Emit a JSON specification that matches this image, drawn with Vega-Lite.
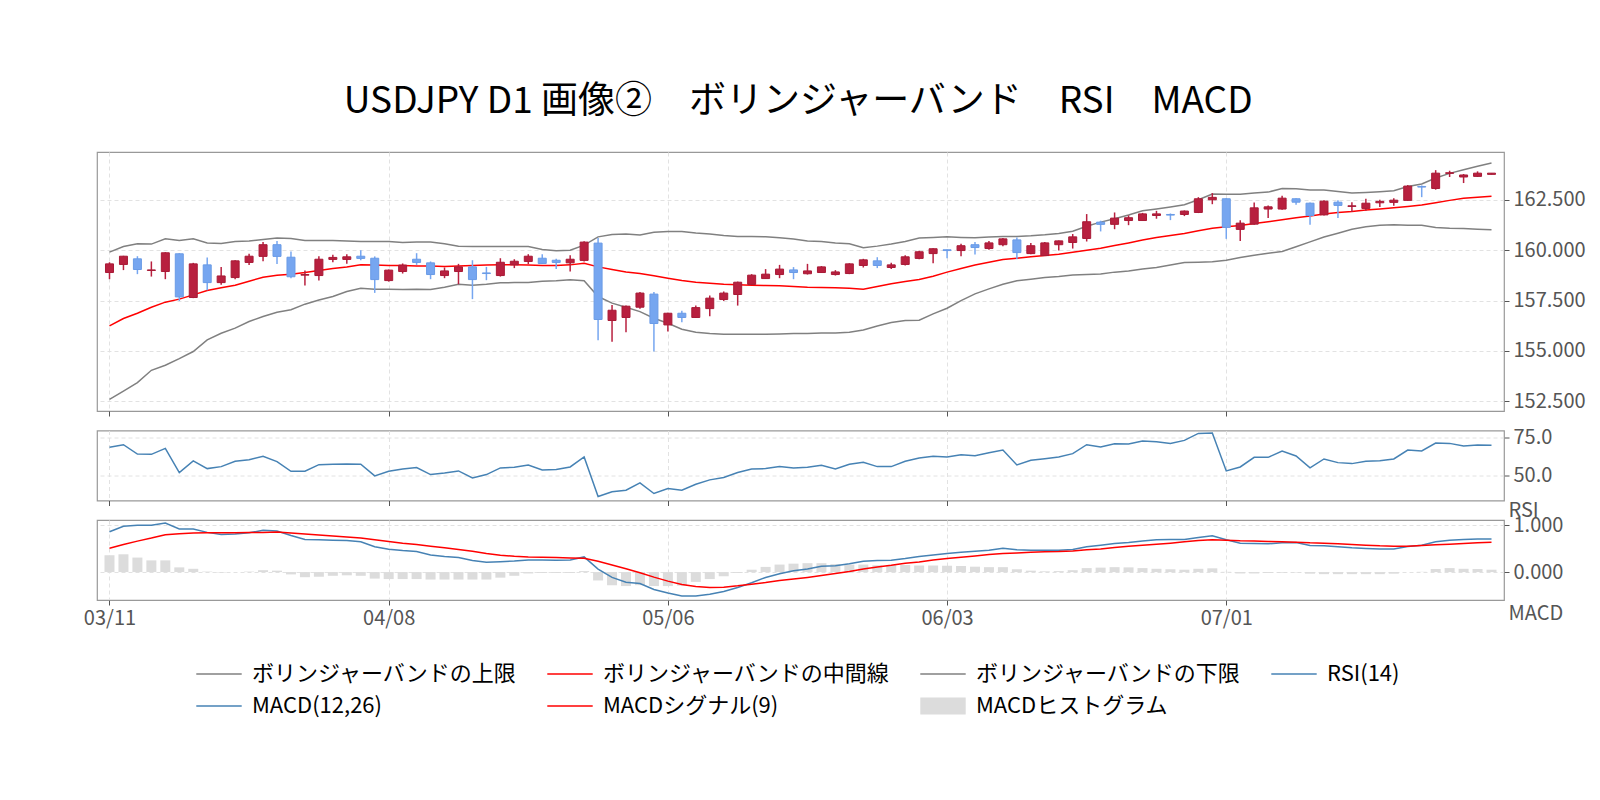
{
  "$schema": "https://vega.github.io/schema/vega-lite/v6.json",
  "padding": {"left": 82, "top": 83, "right": 5, "bottom": 5},
  "title": {
    "text": "USDJPY D1 画像②　ボリンジャーバンド　RSI　MACD",
    "font": "Noto Sans CJK JP", "fontSize": 37, "fontWeight": "normal",
    "color": "#000000", "anchor": "middle", "offset": 30, "dx": -36
  },
  "data": {"values": [
    {"d":"03/11","o":158.89,"h":159.40,"l":158.56,"c":159.32,"u":159.90,"m":156.24,"lo":152.60,"rsi":68.38,"macd":0.863,"sig":0.511,"hist":0.36},
    {"d":"03/12","o":159.29,"h":159.72,"l":159.01,"c":159.70,"u":160.18,"m":156.61,"lo":153.01,"rsi":70.09,"macd":0.978,"sig":0.590,"hist":0.38},
    {"d":"03/13","o":159.57,"h":159.70,"l":158.81,"c":159.04,"u":160.32,"m":156.87,"lo":153.43,"rsi":64.10,"macd":1.000,"sig":0.662,"hist":0.31},
    {"d":"03/14","o":158.99,"h":159.44,"l":158.69,"c":159.02,"u":160.30,"m":157.17,"lo":154.04,"rsi":63.89,"macd":1.000,"sig":0.727,"hist":0.25},
    {"d":"03/15","o":158.94,"h":159.90,"l":158.56,"c":159.87,"u":160.56,"m":157.42,"lo":154.29,"rsi":67.73,"macd":1.050,"sig":0.799,"hist":0.25},
    {"d":"03/18","o":159.82,"h":159.85,"l":157.48,"c":157.68,"u":160.48,"m":157.57,"lo":154.62,"rsi":52.14,"macd":0.921,"sig":0.820,"hist":0.10},
    {"d":"03/19","o":157.65,"h":159.37,"l":157.62,"c":159.32,"u":160.56,"m":157.78,"lo":154.97,"rsi":59.62,"macd":0.921,"sig":0.835,"hist":0.07},
    {"d":"03/20","o":159.27,"h":159.64,"l":158.01,"c":158.39,"u":160.36,"m":158.00,"lo":155.55,"rsi":54.70,"macd":0.849,"sig":0.842,"hist":0.01},
    {"d":"03/21","o":158.39,"h":159.16,"l":158.28,"c":158.72,"u":160.33,"m":158.13,"lo":155.88,"rsi":55.98,"macd":0.806,"sig":0.842,"hist":-0.01},
    {"d":"03/22","o":158.64,"h":159.50,"l":158.56,"c":159.47,"u":160.43,"m":158.26,"lo":156.13,"rsi":59.40,"macd":0.813,"sig":0.842,"hist":0.0},
    {"d":"03/25","o":159.39,"h":159.82,"l":159.26,"c":159.70,"u":160.46,"m":158.46,"lo":156.46,"rsi":60.47,"macd":0.842,"sig":0.849,"hist":0.01},
    {"d":"03/26","o":159.69,"h":160.41,"l":159.45,"c":160.27,"u":160.53,"m":158.66,"lo":156.71,"rsi":62.61,"macd":0.892,"sig":0.849,"hist":0.04},
    {"d":"03/27","o":160.27,"h":160.45,"l":159.31,"c":159.69,"u":160.60,"m":158.76,"lo":156.92,"rsi":59.19,"macd":0.878,"sig":0.856,"hist":0.03},
    {"d":"03/28","o":159.65,"h":159.93,"l":158.61,"c":158.68,"u":160.58,"m":158.81,"lo":157.04,"rsi":52.99,"macd":0.784,"sig":0.835,"hist":-0.05},
    {"d":"03/29","o":158.76,"h":158.99,"l":158.25,"c":158.79,"u":160.48,"m":158.89,"lo":157.32,"rsi":52.99,"macd":0.698,"sig":0.813,"hist":-0.11},
    {"d":"04/01","o":158.74,"h":159.70,"l":158.49,"c":159.55,"u":160.48,"m":158.99,"lo":157.53,"rsi":57.26,"macd":0.691,"sig":0.791,"hist":-0.10},
    {"d":"04/02","o":159.54,"h":159.77,"l":159.40,"c":159.64,"u":160.48,"m":159.09,"lo":157.70,"rsi":57.48,"macd":0.683,"sig":0.770,"hist":-0.08},
    {"d":"04/03","o":159.54,"h":159.80,"l":159.32,"c":159.67,"u":160.46,"m":159.17,"lo":157.95,"rsi":57.69,"macd":0.676,"sig":0.748,"hist":-0.07},
    {"d":"04/04","o":159.70,"h":160.00,"l":159.50,"c":159.59,"u":160.43,"m":159.27,"lo":158.11,"rsi":57.48,"macd":0.647,"sig":0.727,"hist":-0.08},
    {"d":"04/05","o":159.60,"h":159.69,"l":157.88,"c":158.54,"u":160.43,"m":159.26,"lo":158.06,"rsi":50.00,"macd":0.540,"sig":0.691,"hist":-0.14},
    {"d":"04/08","o":158.49,"h":159.04,"l":158.44,"c":159.01,"u":160.43,"m":159.24,"lo":158.06,"rsi":52.99,"macd":0.489,"sig":0.655,"hist":-0.15},
    {"d":"04/09","o":158.94,"h":159.34,"l":158.84,"c":159.26,"u":160.38,"m":159.24,"lo":158.05,"rsi":54.49,"macd":0.460,"sig":0.619,"hist":-0.15},
    {"d":"04/10","o":159.55,"h":159.85,"l":159.27,"c":159.39,"u":160.40,"m":159.22,"lo":158.06,"rsi":55.34,"macd":0.439,"sig":0.590,"hist":-0.15},
    {"d":"04/11","o":159.37,"h":159.44,"l":158.56,"c":158.79,"u":160.40,"m":159.22,"lo":158.05,"rsi":50.85,"macd":0.367,"sig":0.554,"hist":-0.16},
    {"d":"04/12","o":158.74,"h":159.14,"l":158.61,"c":158.97,"u":160.32,"m":159.19,"lo":158.16,"rsi":51.92,"macd":0.331,"sig":0.518,"hist":-0.16},
    {"d":"04/15","o":158.94,"h":159.32,"l":158.31,"c":159.17,"u":160.20,"m":159.22,"lo":158.31,"rsi":53.20,"macd":0.309,"sig":0.482,"hist":-0.16},
    {"d":"04/16","o":159.17,"h":159.50,"l":157.57,"c":158.54,"u":160.18,"m":159.24,"lo":158.26,"rsi":48.72,"macd":0.245,"sig":0.446,"hist":-0.16},
    {"d":"04/17","o":158.87,"h":159.17,"l":158.51,"c":158.84,"u":160.18,"m":159.26,"lo":158.31,"rsi":50.85,"macd":0.209,"sig":0.396,"hist":-0.16},
    {"d":"04/18","o":158.74,"h":159.60,"l":158.69,"c":159.40,"u":160.18,"m":159.27,"lo":158.38,"rsi":55.13,"macd":0.223,"sig":0.360,"hist":-0.12},
    {"d":"04/19","o":159.27,"h":159.55,"l":159.11,"c":159.45,"u":160.18,"m":159.27,"lo":158.39,"rsi":55.56,"macd":0.237,"sig":0.338,"hist":-0.08},
    {"d":"04/22","o":159.44,"h":159.80,"l":159.31,"c":159.70,"u":160.18,"m":159.26,"lo":158.39,"rsi":57.05,"macd":0.259,"sig":0.324,"hist":-0.03},
    {"d":"04/23","o":159.60,"h":159.80,"l":159.31,"c":159.34,"u":160.03,"m":159.24,"lo":158.46,"rsi":53.85,"macd":0.259,"sig":0.317,"hist":-0.02},
    {"d":"04/24","o":159.50,"h":159.57,"l":159.06,"c":159.39,"u":159.97,"m":159.24,"lo":158.48,"rsi":54.06,"macd":0.252,"sig":0.309,"hist":-0.02},
    {"d":"04/25","o":159.37,"h":159.75,"l":158.94,"c":159.55,"u":160.00,"m":159.27,"lo":158.53,"rsi":55.77,"macd":0.259,"sig":0.302,"hist":-0.02},
    {"d":"04/26","o":159.49,"h":160.44,"l":159.44,"c":160.40,"u":160.25,"m":159.35,"lo":158.48,"rsi":62.18,"macd":0.324,"sig":0.295,"hist":0.02},
    {"d":"04/29","o":160.35,"h":160.60,"l":155.53,"c":156.56,"u":160.66,"m":159.17,"lo":157.70,"rsi":36.75,"macd":0.065,"sig":0.230,"hist":-0.18},
    {"d":"04/30","o":156.51,"h":157.28,"l":155.46,"c":157.02,"u":160.78,"m":159.04,"lo":157.37,"rsi":39.74,"macd":-0.115,"sig":0.151,"hist":-0.28},
    {"d":"05/01","o":156.66,"h":157.25,"l":155.93,"c":157.22,"u":160.80,"m":158.92,"lo":157.17,"rsi":40.81,"macd":-0.216,"sig":0.072,"hist":-0.30},
    {"d":"05/02","o":157.17,"h":157.92,"l":157.09,"c":157.87,"u":160.75,"m":158.84,"lo":156.95,"rsi":45.51,"macd":-0.245,"sig":-0.014,"hist":-0.28},
    {"d":"05/03","o":157.82,"h":157.92,"l":154.97,"c":156.36,"u":160.89,"m":158.73,"lo":156.62,"rsi":38.67,"macd":-0.374,"sig":-0.108,"hist":-0.30},
    {"d":"05/06","o":156.29,"h":156.90,"l":155.96,"c":156.87,"u":160.93,"m":158.61,"lo":156.37,"rsi":41.88,"macd":-0.446,"sig":-0.194,"hist":-0.30},
    {"d":"05/07","o":156.87,"h":156.99,"l":156.42,"c":156.66,"u":160.93,"m":158.49,"lo":156.08,"rsi":40.81,"macd":-0.511,"sig":-0.266,"hist":-0.29},
    {"d":"05/08","o":156.66,"h":157.25,"l":156.64,"c":157.15,"u":160.85,"m":158.41,"lo":155.93,"rsi":44.66,"macd":-0.511,"sig":-0.309,"hist":-0.21},
    {"d":"05/09","o":157.10,"h":157.75,"l":156.72,"c":157.62,"u":160.80,"m":158.36,"lo":155.86,"rsi":47.44,"macd":-0.475,"sig":-0.331,"hist":-0.15},
    {"d":"05/10","o":157.55,"h":157.95,"l":157.48,"c":157.87,"u":160.73,"m":158.31,"lo":155.83,"rsi":48.93,"macd":-0.417,"sig":-0.324,"hist":-0.09},
    {"d":"05/13","o":157.80,"h":158.44,"l":157.25,"c":158.41,"u":160.68,"m":158.28,"lo":155.83,"rsi":52.14,"macd":-0.331,"sig":-0.295,"hist":-0.02},
    {"d":"05/14","o":158.30,"h":158.81,"l":158.28,"c":158.76,"u":160.68,"m":158.26,"lo":155.83,"rsi":54.49,"macd":-0.230,"sig":-0.259,"hist":0.05},
    {"d":"05/15","o":158.59,"h":159.06,"l":158.59,"c":158.81,"u":160.66,"m":158.25,"lo":155.83,"rsi":54.70,"macd":-0.115,"sig":-0.223,"hist":0.11},
    {"d":"05/16","o":158.79,"h":159.27,"l":158.61,"c":159.06,"u":160.61,"m":158.23,"lo":155.84,"rsi":55.98,"macd":-0.036,"sig":-0.180,"hist":0.16},
    {"d":"05/17","o":159.02,"h":159.16,"l":158.56,"c":158.89,"u":160.55,"m":158.20,"lo":155.86,"rsi":55.13,"macd":0.029,"sig":-0.150,"hist":0.18},
    {"d":"05/20","o":158.83,"h":159.32,"l":158.79,"c":158.97,"u":160.46,"m":158.16,"lo":155.87,"rsi":55.56,"macd":0.065,"sig":-0.115,"hist":0.19},
    {"d":"05/21","o":158.89,"h":159.21,"l":158.87,"c":159.17,"u":160.43,"m":158.15,"lo":155.89,"rsi":56.84,"macd":0.122,"sig":-0.075,"hist":0.19},
    {"d":"05/22","o":158.79,"h":159.01,"l":158.74,"c":158.92,"u":160.36,"m":158.13,"lo":155.89,"rsi":54.49,"macd":0.137,"sig":-0.030,"hist":0.17},
    {"d":"05/23","o":158.84,"h":159.35,"l":158.81,"c":159.32,"u":160.32,"m":158.11,"lo":155.93,"rsi":57.48,"macd":0.180,"sig":0.014,"hist":0.16},
    {"d":"05/24","o":159.24,"h":159.57,"l":159.14,"c":159.52,"u":160.12,"m":158.06,"lo":156.04,"rsi":58.76,"macd":0.230,"sig":0.065,"hist":0.16},
    {"d":"05/27","o":159.47,"h":159.65,"l":159.11,"c":159.24,"u":160.20,"m":158.20,"lo":156.24,"rsi":55.98,"macd":0.245,"sig":0.108,"hist":0.145},
    {"d":"05/28","o":159.14,"h":159.37,"l":159.06,"c":159.27,"u":160.30,"m":158.33,"lo":156.41,"rsi":55.98,"macd":0.252,"sig":0.144,"hist":0.15},
    {"d":"05/29","o":159.29,"h":159.75,"l":159.24,"c":159.67,"u":160.43,"m":158.44,"lo":156.51,"rsi":59.40,"macd":0.288,"sig":0.187,"hist":0.15},
    {"d":"05/30","o":159.59,"h":159.97,"l":159.55,"c":159.92,"u":160.60,"m":158.54,"lo":156.52,"rsi":61.54,"macd":0.331,"sig":0.216,"hist":0.14},
    {"d":"05/31","o":159.83,"h":160.10,"l":159.35,"c":160.07,"u":160.63,"m":158.71,"lo":156.84,"rsi":62.61,"macd":0.367,"sig":0.259,"hist":0.14},
    {"d":"06/03","o":160.02,"h":160.03,"l":159.60,"c":159.98,"u":160.66,"m":158.91,"lo":157.12,"rsi":62.18,"macd":0.396,"sig":0.288,"hist":0.135},
    {"d":"06/04","o":159.98,"h":160.32,"l":159.70,"c":160.22,"u":160.63,"m":159.09,"lo":157.50,"rsi":63.68,"macd":0.424,"sig":0.317,"hist":0.13},
    {"d":"06/05","o":160.27,"h":160.40,"l":159.78,"c":160.13,"u":160.61,"m":159.26,"lo":157.83,"rsi":63.03,"macd":0.446,"sig":0.345,"hist":0.115},
    {"d":"06/06","o":160.08,"h":160.45,"l":160.02,"c":160.36,"u":160.65,"m":159.40,"lo":158.08,"rsi":64.96,"macd":0.468,"sig":0.374,"hist":0.105},
    {"d":"06/07","o":160.27,"h":160.60,"l":160.20,"c":160.56,"u":160.68,"m":159.54,"lo":158.31,"rsi":66.67,"macd":0.511,"sig":0.396,"hist":0.105},
    {"d":"06/10","o":160.51,"h":160.63,"l":159.55,"c":159.88,"u":160.68,"m":159.60,"lo":158.48,"rsi":57.05,"macd":0.475,"sig":0.410,"hist":0.06},
    {"d":"06/11","o":159.83,"h":160.35,"l":159.80,"c":160.22,"u":160.71,"m":159.67,"lo":158.56,"rsi":60.04,"macd":0.468,"sig":0.424,"hist":0.03},
    {"d":"06/12","o":159.73,"h":160.40,"l":159.71,"c":160.36,"u":160.76,"m":159.74,"lo":158.64,"rsi":61.11,"macd":0.468,"sig":0.432,"hist":0.015},
    {"d":"06/13","o":160.27,"h":160.48,"l":159.98,"c":160.46,"u":160.83,"m":159.80,"lo":158.69,"rsi":62.18,"macd":0.468,"sig":0.439,"hist":0.02},
    {"d":"06/14","o":160.38,"h":160.80,"l":160.08,"c":160.66,"u":160.94,"m":159.90,"lo":158.77,"rsi":64.32,"macd":0.482,"sig":0.453,"hist":0.04},
    {"d":"06/17","o":160.58,"h":161.79,"l":160.43,"c":161.41,"u":161.19,"m":160.00,"lo":158.79,"rsi":70.09,"macd":0.540,"sig":0.475,"hist":0.085},
    {"d":"06/18","o":161.39,"h":161.46,"l":160.93,"c":161.28,"u":161.39,"m":160.10,"lo":158.82,"rsi":68.59,"macd":0.576,"sig":0.496,"hist":0.095},
    {"d":"06/19","o":161.28,"h":161.87,"l":161.04,"c":161.59,"u":161.56,"m":160.23,"lo":158.91,"rsi":70.73,"macd":0.612,"sig":0.525,"hist":0.105},
    {"d":"06/20","o":161.47,"h":161.72,"l":161.24,"c":161.61,"u":161.74,"m":160.36,"lo":158.97,"rsi":70.51,"macd":0.633,"sig":0.554,"hist":0.10},
    {"d":"06/21","o":161.47,"h":161.85,"l":161.46,"c":161.80,"u":161.95,"m":160.50,"lo":159.07,"rsi":72.44,"macd":0.662,"sig":0.576,"hist":0.085},
    {"d":"06/24","o":161.72,"h":161.95,"l":161.56,"c":161.80,"u":162.04,"m":160.63,"lo":159.14,"rsi":72.01,"macd":0.691,"sig":0.597,"hist":0.07},
    {"d":"06/25","o":161.77,"h":161.82,"l":161.49,"c":161.74,"u":162.14,"m":160.73,"lo":159.26,"rsi":70.94,"macd":0.698,"sig":0.619,"hist":0.06},
    {"d":"06/26","o":161.77,"h":161.97,"l":161.69,"c":161.94,"u":162.25,"m":160.83,"lo":159.39,"rsi":72.86,"macd":0.698,"sig":0.647,"hist":0.05},
    {"d":"06/27","o":161.87,"h":162.63,"l":161.84,"c":162.55,"u":162.50,"m":160.96,"lo":159.40,"rsi":77.35,"macd":0.741,"sig":0.676,"hist":0.07},
    {"d":"06/28","o":162.50,"h":162.83,"l":162.28,"c":162.62,"u":162.78,"m":161.09,"lo":159.42,"rsi":77.56,"macd":0.777,"sig":0.691,"hist":0.08},
    {"d":"07/01","o":162.55,"h":162.58,"l":160.56,"c":161.13,"u":162.77,"m":161.16,"lo":159.50,"rsi":53.20,"macd":0.691,"sig":0.683,"hist":0.005},
    {"d":"07/02","o":161.03,"h":161.49,"l":160.45,"c":161.34,"u":162.77,"m":161.22,"lo":159.64,"rsi":55.77,"macd":0.619,"sig":0.669,"hist":-0.03},
    {"d":"07/03","o":161.29,"h":162.37,"l":161.26,"c":162.10,"u":162.83,"m":161.32,"lo":159.75,"rsi":61.97,"macd":0.612,"sig":0.662,"hist":-0.03},
    {"d":"07/04","o":162.04,"h":162.22,"l":161.59,"c":162.15,"u":162.88,"m":161.41,"lo":159.85,"rsi":61.97,"macd":0.604,"sig":0.655,"hist":-0.02},
    {"d":"07/05","o":162.04,"h":162.70,"l":162.00,"c":162.58,"u":163.06,"m":161.51,"lo":159.93,"rsi":66.03,"macd":0.626,"sig":0.647,"hist":-0.015},
    {"d":"07/08","o":162.55,"h":162.58,"l":162.25,"c":162.38,"u":163.05,"m":161.61,"lo":160.17,"rsi":62.82,"macd":0.633,"sig":0.640,"hist":-0.01},
    {"d":"07/09","o":162.33,"h":162.37,"l":161.26,"c":161.72,"u":162.98,"m":161.69,"lo":160.41,"rsi":55.13,"macd":0.568,"sig":0.626,"hist":-0.035},
    {"d":"07/10","o":161.75,"h":162.47,"l":161.72,"c":162.43,"u":162.98,"m":161.79,"lo":160.65,"rsi":60.90,"macd":0.561,"sig":0.619,"hist":-0.045},
    {"d":"07/11","o":162.38,"h":162.48,"l":161.59,"c":162.22,"u":162.91,"m":161.87,"lo":160.84,"rsi":58.55,"macd":0.540,"sig":0.604,"hist":-0.045},
    {"d":"07/12","o":162.17,"h":162.38,"l":161.89,"c":162.20,"u":162.83,"m":161.92,"lo":161.04,"rsi":57.91,"macd":0.518,"sig":0.590,"hist":-0.045},
    {"d":"07/15","o":162.07,"h":162.55,"l":161.95,"c":162.33,"u":162.86,"m":161.99,"lo":161.16,"rsi":59.40,"macd":0.504,"sig":0.576,"hist":-0.045},
    {"d":"07/16","o":162.35,"h":162.50,"l":162.14,"c":162.42,"u":162.90,"m":162.04,"lo":161.23,"rsi":59.83,"macd":0.496,"sig":0.561,"hist":-0.045},
    {"d":"07/17","o":162.37,"h":162.58,"l":162.20,"c":162.48,"u":162.95,"m":162.10,"lo":161.26,"rsi":60.90,"macd":0.496,"sig":0.554,"hist":-0.035},
    {"d":"07/18","o":162.47,"h":163.23,"l":162.45,"c":163.18,"u":163.16,"m":162.17,"lo":161.24,"rsi":66.67,"macd":0.547,"sig":0.554,"hist":0.0},
    {"d":"07/19","o":163.16,"h":163.21,"l":162.63,"c":163.13,"u":163.28,"m":162.24,"lo":161.23,"rsi":66.03,"macd":0.576,"sig":0.568,"hist":0.005},
    {"d":"07/22","o":163.06,"h":163.97,"l":163.00,"c":163.82,"u":163.58,"m":162.35,"lo":161.13,"rsi":71.15,"macd":0.647,"sig":0.583,"hist":0.065},
    {"d":"07/23","o":163.81,"h":163.94,"l":163.63,"c":163.84,"u":163.81,"m":162.47,"lo":161.09,"rsi":70.94,"macd":0.683,"sig":0.597,"hist":0.085},
    {"d":"07/24","o":163.63,"h":163.78,"l":163.33,"c":163.73,"u":163.99,"m":162.57,"lo":161.08,"rsi":69.23,"macd":0.698,"sig":0.612,"hist":0.07},
    {"d":"07/25","o":163.66,"h":163.91,"l":163.63,"c":163.82,"u":164.16,"m":162.63,"lo":161.04,"rsi":69.87,"macd":0.705,"sig":0.626,"hist":0.065},
    {"d":"07/26","o":163.76,"h":163.82,"l":163.76,"c":163.82,"u":164.32,"m":162.67,"lo":161.01,"rsi":69.66,"macd":0.705,"sig":0.640,"hist":0.05}
  ]},
  "spacing": 19.5,
  "bounds": "flush",
  "resolve": {"scale": {"color": "shared"}, "legend": {"color": "shared"}},
  "vconcat": [
    {
      "width": 1407, "height": 259,
      "encoding": {
        "x": {"field": "d", "type": "ordinal", "sort": null,
              "scale": {"type": "point", "padding": 0.895},
              "axis": {"values": ["03/11","04/08","05/06","06/03","07/01"], "labels": false, "title": null, "grid": true}}
      },
      "layer": [
        {
          "mark": {"type": "line", "strokeWidth": 1.5},
          "encoding": {
            "y": {"field": "u", "type": "quantitative",
                  "scale": {"domain": [152.02, 164.87], "zero": false, "nice": false},
                  "axis": {"orient": "right", "values": [152.5,155,157.5,160,162.5], "format": ".3f", "title": null}},
            "color": {"datum": "ボリンジャーバンドの上限",
              "scale": {"domain": ["ボリンジャーバンドの上限","ボリンジャーバンドの中間線","ボリンジャーバンドの下限","RSI(14)","MACD(12,26)","MACDシグナル(9)","MACDヒストグラム"],
                        "range": ["#808080","#ff0000","#808080","#4682b4","#4682b4","#ff0000","#dcdcdc"]},
              "legend": {
                "orient": "none", "legendX": 111, "legendY": 511,
                "direction": "horizontal", "columns": 4, "title": null,
                "symbolType": "stroke", "symbolSize": 2063, "symbolStrokeWidth": 1.5,
                "labelFont": "Noto Sans CJK JP", "labelFontSize": 22, "labelColor": "#000000",
                "labelOffset": 22, "columnPadding": 27, "rowPadding": 10, "labelLimit": 0,
                "gridAlign": "each",
                "encode": {"symbols": {"update": {
                  "shape": {"signal": "datum.value === 'MACDヒストグラム' ? 'M-1,-0.37H1V0.37H-1Z' : 'stroke'"},
                  "fill": {"signal": "datum.value === 'MACDヒストグラム' ? '#dcdcdc' : 'transparent'"},
                  "strokeWidth": {"signal": "datum.value === 'MACDヒストグラム' ? 0 : 1.5"}
                }}}
              }}
          }
        },
        {
          "mark": {"type": "line", "strokeWidth": 1.5},
          "encoding": {
            "y": {"field": "m", "type": "quantitative", "scale": {"domain": [152.02, 164.87], "zero": false, "nice": false}},
            "color": {"datum": "ボリンジャーバンドの中間線"}
          }
        },
        {
          "mark": {"type": "line", "strokeWidth": 1.5},
          "encoding": {
            "y": {"field": "lo", "type": "quantitative", "scale": {"domain": [152.02, 164.87], "zero": false, "nice": false}},
            "color": {"datum": "ボリンジャーバンドの下限"}
          }
        },
        {
          "mark": {"type": "rule", "strokeWidth": 1.5},
          "encoding": {
            "y": {"field": "l", "type": "quantitative", "scale": {"domain": [152.02, 164.87], "zero": false, "nice": false}},
            "y2": {"field": "h"},
            "color": {"condition": {"test": "datum.c >= datum.o", "value": "#b8203f"}, "value": "#76a6f0"}
          }
        },
        {
          "mark": {"type": "bar", "width": 8, "strokeWidth": 1},
          "encoding": {
            "y": {"field": "o", "type": "quantitative", "scale": {"domain": [152.02, 164.87], "zero": false, "nice": false}},
            "y2": {"field": "c"},
            "color": {"condition": {"test": "datum.c >= datum.o", "value": "#b8203f"}, "value": "#76a6f0"},
            "stroke": {"condition": {"test": "datum.c >= datum.o", "value": "#a81a36"}, "value": "#6a9be6"}
          }
        }
      ]
    },
    {
      "width": 1407, "height": 70,
      "encoding": {
        "x": {"field": "d", "type": "ordinal", "sort": null,
              "scale": {"type": "point", "padding": 0.895},
              "axis": {"values": ["03/11","04/08","05/06","06/03","07/01"], "labels": false, "title": null, "grid": true}}
      },
      "layer": [
        {
          "mark": {"type": "line", "strokeWidth": 1.5},
          "encoding": {
            "y": {"field": "rsi", "type": "quantitative",
                  "scale": {"domain": [34.17, 79.23], "zero": false, "nice": false},
                  "axis": {"orient": "right", "values": [50, 75], "format": ".1f", "title": "RSI",
                           "titleAngle": 0, "titleAlign": "left", "titleBaseline": "top", "titleX": 4, "titleY": 70}},
            "color": {"datum": "RSI(14)"}
          }
        }
      ]
    },
    {
      "width": 1407, "height": 80,
      "encoding": {
        "x": {"field": "d", "type": "ordinal", "sort": null,
              "scale": {"type": "point", "padding": 0.895},
              "axis": {"values": ["03/11","04/08","05/06","06/03","07/01"], "labelAngle": 0, "labelPadding": 3, "title": null, "grid": true}}
      },
      "layer": [
        {
          "mark": {"type": "bar", "width": 10},
          "encoding": {
            "y": {"field": "hist", "type": "quantitative",
                  "scale": {"domain": [-0.598, 1.114], "zero": false, "nice": false},
                  "axis": {"orient": "right", "values": [0, 1], "format": ".3f", "title": "MACD",
                           "titleAngle": 0, "titleAlign": "left", "titleBaseline": "top", "titleX": 4, "titleY": 83}},
            "y2": {"datum": 0},
            "color": {"datum": "MACDヒストグラム"}
          }
        },
        {
          "mark": {"type": "line", "strokeWidth": 1.5},
          "encoding": {
            "y": {"field": "macd", "type": "quantitative", "scale": {"domain": [-0.598, 1.114], "zero": false, "nice": false}},
            "color": {"datum": "MACD(12,26)"}
          }
        },
        {
          "mark": {"type": "line", "strokeWidth": 1.5},
          "encoding": {
            "y": {"field": "sig", "type": "quantitative", "scale": {"domain": [-0.598, 1.114], "zero": false, "nice": false}},
            "color": {"datum": "MACDシグナル(9)"}
          }
        }
      ]
    }
  ],
  "config": {
    "font": "Noto Sans CJK JP",
    "view": {"stroke": "#999999", "strokeWidth": 1.2},
    "axis": {
      "labelFont": "Noto Sans CJK JP", "labelFontSize": 20, "labelColor": "#555555",
      "tickColor": "#555555", "tickSize": 5, "labelPadding": 4, "domain": false,
      "gridColor": "#e2e2e2", "gridDash": [4, 3], "gridWidth": 1,
      "titleFont": "Noto Sans CJK JP", "titleFontSize": 20, "titleColor": "#555555", "titleFontWeight": "normal"
    }
  }
}
